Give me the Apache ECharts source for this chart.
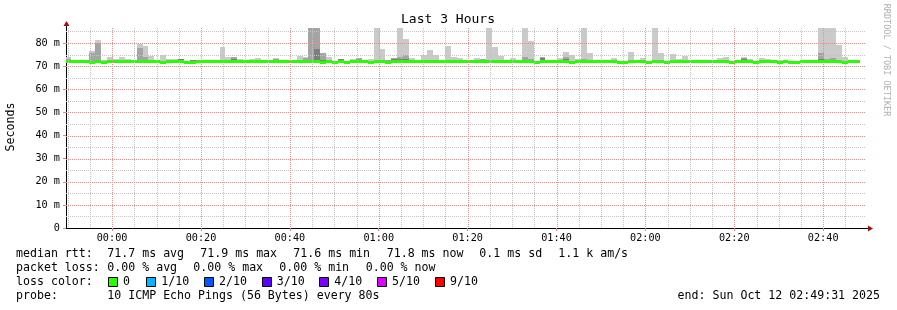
<!DOCTYPE html>
<html><head><meta charset="utf-8">
<script src="https://cdn.jsdelivr.net/npm/echarts@6/dist/echarts.min.js"></script>
<style>html,body{margin:0;padding:0;background:#fff}#c{width:897px;height:310px}</style>
</head><body><div id="c"></div>
<script>
// ---------------- data ----------------
const chartTitle = 'Last 3 Hours';
const yAxisName = 'Seconds';
const watermark = 'RRDTOOL / TOBI OETIKER';
const viewStart = '23:49:38';
const viewEnd = '02:49:38';
const firstStep = '23:49:31';
const stepSeconds = 80;

// smoke: top of outer band (max ping), 2nd band (9th ping), 3rd band (8th ping), in ms
const maxRtt = [
 74.0,72.2,72.2,72.2,76.5,81.3,72.6,74.0,73.1,74.0,
 73.1,72.5,79.7,78.7,74.4,72.2,74.8,73.1,73.1,73.1,
 72.2,72.6,72.2,72.6,72.2,72.6,78.3,73.8,74.0,73.1,
 72.6,73.1,73.5,72.6,72.2,73.5,72.2,72.6,72.2,74.4,
 74.0,87.0,87.0,75.8,74.0,72.2,73.1,72.2,73.1,73.6,
 72.8,73.1,87.0,77.4,72.8,73.4,87.0,81.7,73.5,72.2,
 75.0,77.0,75.0,72.6,78.7,74.1,73.6,72.2,72.2,73.5,
 73.2,87.0,78.3,74.4,72.6,73.5,72.6,87.0,80.9,72.2,
 74.0,72.2,72.6,73.5,76.1,74.8,73.1,87.0,75.7,72.2,
 72.2,72.2,73.5,72.2,72.2,76.1,72.6,73.5,72.2,87.0,
 75.7,72.2,75.2,73.1,74.4,72.4,72.6,72.6,72.2,72.6,
 73.5,74.0,72.2,72.2,73.8,73.1,72.2,73.5,73.1,72.2,
 72.6,72.6,72.2,72.2,72.2,72.6,72.2,87.0,87.0,87.0,
 79.1,74.0,72.6,72.2
];
const p9Rtt = [
 73.0,72.2,72.2,72.2,75.8,80.0,72.2,72.2,72.2,72.2,
 72.2,72.2,77.8,74.0,72.2,72.2,72.2,72.8,72.2,73.0,
 72.2,72.6,72.2,72.2,72.2,72.2,72.2,72.2,74.0,72.2,
 72.2,72.2,72.2,72.2,72.2,73.2,72.2,72.2,72.2,72.2,
 73.6,87.0,87.0,75.7,72.2,72.2,73.1,72.2,72.2,73.6,
 72.2,72.2,72.2,72.2,72.8,73.4,74.1,74.9,72.2,72.2,
 72.2,72.2,72.2,72.2,72.2,72.8,72.2,72.2,72.2,72.2,
 73.0,72.2,72.2,72.2,72.2,72.2,72.2,74.0,73.0,72.2,
 74.0,72.2,72.2,72.2,74.0,72.2,72.2,73.1,72.2,72.2,
 72.2,72.2,72.2,72.2,72.2,72.6,72.2,72.2,72.2,72.2,
 72.2,72.2,72.2,72.2,72.6,72.2,72.6,72.2,72.2,72.2,
 72.2,72.2,72.2,72.2,73.5,72.2,72.2,72.2,72.2,72.2,
 72.2,72.2,72.2,72.2,72.2,72.2,72.2,75.7,73.1,73.5,
 72.2,72.2,72.2,72.2
];
const p8Rtt = [
 72.2,72.2,72.2,72.2,72.2,72.2,72.2,72.2,72.2,72.2,
 72.2,72.2,72.2,72.2,72.2,72.2,72.2,72.2,72.2,72.9,
 72.2,72.6,72.2,72.2,72.2,72.2,72.2,72.2,73.1,72.2,
 72.2,72.2,72.2,72.2,72.2,72.2,72.2,72.2,72.2,72.2,
 72.2,72.2,77.4,72.8,72.2,72.2,73.0,72.2,72.2,72.2,
 72.2,72.2,72.2,72.2,72.2,73.2,73.3,73.1,72.2,72.2,
 72.2,72.2,72.2,72.2,72.2,72.8,72.2,72.2,72.2,72.2,
 72.2,72.2,72.2,72.2,72.2,72.2,72.2,72.2,72.2,72.2,
 73.5,72.2,72.2,72.2,73.2,72.2,72.2,72.2,72.2,72.2,
 72.2,72.2,72.2,72.2,72.2,72.2,72.2,72.2,72.2,72.2,
 72.2,72.2,72.2,72.2,72.2,72.2,72.6,72.2,72.2,72.2,
 72.2,72.2,72.2,72.2,73.3,72.2,72.2,72.2,72.2,72.2,
 72.2,72.2,72.2,72.2,72.2,72.2,72.2,73.1,72.2,72.2,
 72.2,72.2,72.2,72.2
];
const medianRtt = [
 71.85,71.85,71.85,71.85,71.45,71.85,71.45,71.85,71.85,71.85,
 71.85,71.85,71.85,71.85,71.85,71.85,71.45,71.85,71.85,71.85,
 71.45,71.45,71.85,71.85,71.85,71.85,71.85,71.85,71.85,71.85,
 71.85,71.85,71.85,71.85,71.85,71.85,71.85,71.85,71.85,71.85,
 71.85,71.85,71.85,71.45,71.85,71.45,71.85,71.45,71.85,71.85,
 71.85,71.45,71.85,71.85,71.45,71.85,71.85,71.85,71.85,71.85,
 71.85,71.85,71.85,71.85,71.85,71.85,71.85,71.85,71.85,71.85,
 71.85,71.85,71.85,71.85,71.85,71.85,71.85,71.85,71.85,71.45,
 71.85,71.85,71.85,71.85,71.85,71.45,71.85,71.85,71.85,71.85,
 71.85,71.85,71.85,71.45,71.45,71.85,71.85,71.85,71.45,71.85,
 71.85,71.45,71.85,71.85,71.85,71.85,71.85,71.85,71.85,71.85,
 71.85,71.85,71.45,71.85,71.85,71.85,71.45,71.85,71.85,71.85,
 71.45,71.85,71.45,71.45,71.85,71.85,71.85,71.85,71.85,71.85,
 71.85,71.45,71.85,71.85
];

const xTickMinutes = [0,20,40,60,80,100,120,140,160];
const xTickLabels = ['00:00','00:20','00:40','01:00','01:20','01:40','02:00','02:20','02:40'];
const xMinorMinutes = [-10,-5,5,10,15,25,30,35,45,50,55,65,70,75,85,90,95,105,110,115,125,130,135,145,150,155,165];
const yTickValues = [0,10,20,30,40,50,60,70,80];
const yTickLabels = ['0','10 m','20 m','30 m','40 m','50 m','60 m','70 m','80 m'];
const yMinorValues = [5,15,25,35,45,55,65,75,85];
const yMax = 86.5;

const legendMedian = ['median rtt:','71.7 ms avg','71.9 ms max','71.6 ms min','71.8 ms now','0.1 ms sd','1.1 k am/s'];
const legendLoss = ['packet loss:','0.00 % avg','0.00 % max','0.00 % min','0.00 % now'];
const lossColorTitle = 'loss color:';
const lossLabels = ['0','1/10','2/10','3/10','4/10','5/10','9/10'];
const lossColors = ['#26ff00','#00b8ff','#0059ff','#5e00ff','#7e00ff','#dd00ff','#ff0000'];
const probeTitle = 'probe:';
const probeText = '10 ICMP Echo Pings (56 Bytes) every 80s';
const endText = 'end: Sun Oct 12 02:49:31 2025';

// ---------------- helpers ----------------
function toMin(s){ const [h,m,sec]=s.split(':').map(Number); let v=h*60+m+sec/60; if(h>=12) v-=1440; return v; }
const xMin = toMin(viewStart), xMax = toMin(viewEnd);
const t0 = toMin(firstStep), dt = stepSeconds/60;

function bandData(topArr){ return topArr.map((v,i)=>[t0+i*dt, t0+(i+1)*dt, medianRtt[i], v]); }
function rectItem(color){
  return function(params, api){
    const a = api.coord([api.value(0), api.value(3)]);
    const b = api.coord([api.value(1), api.value(2)]);
    const cs = params.coordSys;
    const x0 = Math.round(a[0]), x1 = Math.round(b[0]);
    const y0 = Math.round(a[1]), y1 = Math.round(b[1]);
    const r = echarts.graphic.clipRectByRect(
      {x:x0, y:y0, width:x1-x0, height:y1-y0},
      {x:cs.x, y:cs.y, width:cs.width, height:cs.height});
    return r && {type:'rect', shape:r, style:{fill:color}};
  };
}
const greenHalf = 0.65;
const medianData = medianRtt.map((v,i)=>[t0+i*dt, t0+(i+1)*dt, v-greenHalf, v+greenHalf]);

const MONO = '"DejaVu Sans Mono", monospace';
const minorC = '#c4c4c4', majorC = '#f08c8c';

function vLine(color){
  return function(params, api){
    const p = api.coord([api.value(0), api.value(1)]);
    const cs = params.coordSys;
    const x = Math.round(p[0]) + 0.5;
    if (x <= cs.x + 1) return null;
    return {type:'line', shape:{x1:x, y1:cs.y, x2:x, y2:cs.y+cs.height},
      style:{stroke:color, lineWidth:1, lineDash:[1,1]}};
  };
}
function hLine(color){
  return function(params, api){
    const p = api.coord([api.value(0), api.value(1)]);
    const cs = params.coordSys;
    const y = Math.round(p[1]) + 0.5;
    return {type:'line', shape:{x1:cs.x, y1:y, x2:cs.x+cs.width, y2:y},
      style:{stroke:color, lineWidth:1, lineDash:[1,1]}};
  };
}
const vData = arr => arr.map(m=>[m, 1]);
const hData = arr => arr.map(v=>[0, v]);

const chart = echarts.init(document.getElementById('c'));
const GL=66, GT=28, GW=800, GH=200;

const graphics = [];
const txt = (x,y,s,extra)=>graphics.push(Object.assign({type:'text', x, y, silent:true,
  style:Object.assign({text:s, fill:'#000', font:'11.6px '+MONO, textAlign:'left', textVerticalAlign:'middle'}, extra||{})}));
txt(448,20,chartTitle,{font:'13px '+MONO, textAlign:'center'});
graphics.push({type:'text', x:11, y:127, rotation:Math.PI/2, silent:true,
  style:{text:yAxisName, fill:'#000', font:'11.6px '+MONO, textAlign:'center', textVerticalAlign:'middle'}});
graphics.push({type:'text', x:886, y:60, rotation:-Math.PI/2, silent:true,
  style:{text:watermark, fill:'#b0b0b0', font:'8.5px '+MONO, textAlign:'center', textVerticalAlign:'middle'}});
const row1X=[16,107.3,200.3,293.3,386.7,479.3,558.3];
legendMedian.forEach((s,i)=>txt(row1X[i],254,s));
const row2X=[16,107.3,193.3,279.3,365.7];
legendLoss.forEach((s,i)=>txt(row2X[i],268,s));
txt(16,282,lossColorTitle);
const boxX=[108,146.3,204,261.7,319.3,377,435];
lossLabels.forEach((s,i)=>{
  graphics.push({type:'rect', silent:true, shape:{x:Math.round(boxX[i])+0.5, y:277.5, width:9, height:9},
    style:{fill:lossColors[i], stroke:'#000', lineWidth:1}});
  txt(boxX[i]+15,282,s);
});
txt(16,296,probeTitle);
txt(107.3,296,probeText);
txt(880,296,endText,{textAlign:'right'});

chart.setOption({
  animation:false,
  backgroundColor:'#fff',
  grid:{left:GL, top:GT, width:GW, height:GH},
  xAxis:{type:'value', min:xMin, max:xMax,
    axisLine:{show:true, onZero:false, lineStyle:{color:'#000', width:1}},
    axisTick:{show:true, customValues:xTickMinutes, length:3, lineStyle:{color:'#f08080'}},
    axisLabel:{customValues:xTickMinutes, formatter:v=>xTickLabels[xTickMinutes.indexOf(v)]||'',
      fontFamily:MONO, fontSize:10.2, color:'#000', margin:5},
    splitLine:{show:false}},
  yAxis:{type:'value', min:0, max:yMax,
    axisLine:{show:true, onZero:false, lineStyle:{color:'#000', width:1}},
    axisTick:{show:true, customValues:yTickValues, length:3, lineStyle:{color:'#f08080'}},
    axisLabel:{customValues:yTickValues, formatter:v=>yTickLabels[yTickValues.indexOf(v)]||'',
      fontFamily:MONO, fontSize:10.2, color:'#000', margin:6},
    splitLine:{show:false}},
  series:[
    {type:'custom', z:2, renderItem:rectItem('#cacaca'), data:bandData(maxRtt), encode:{x:[0,1], y:[2,3]}},
    {type:'custom', z:3, renderItem:rectItem('#a4a4a4'), data:bandData(p9Rtt), encode:{x:[0,1], y:[2,3]}},
    {type:'custom', z:4, renderItem:rectItem('#7e7e7e'), data:bandData(p8Rtt), encode:{x:[0,1], y:[2,3]}},
    {type:'custom', z:5, renderItem:rectItem(lossColors[0]), data:medianData, encode:{x:[0,1], y:[2,3]}},
    {type:'custom', z:6, silent:true, renderItem:vLine(minorC), data:vData(xMinorMinutes), encode:{x:0, y:1}},
    {type:'custom', z:6, silent:true, renderItem:hLine(minorC), data:hData(yMinorValues), encode:{x:0, y:1}},
    {type:'custom', z:7, silent:true, renderItem:vLine(majorC), data:vData(xTickMinutes), encode:{x:0, y:1}},
    {type:'custom', z:7, silent:true, renderItem:hLine(majorC), data:hData(yTickValues.slice(1)), encode:{x:0, y:1}}
  ],
  graphic:graphics
});

const pO = chart.convertToPixel({gridIndex:0},[xMax,0]);
const pT = chart.convertToPixel({gridIndex:0},[xMin,yMax]);
chart.setOption({graphic: graphics.concat([
  {type:'line', silent:true, shape:{x1:pO[0], y1:pO[1]+0.5, x2:pO[0]+3, y2:pO[1]+0.5}, style:{stroke:'#000', lineWidth:1}},
  {type:'polygon', silent:true, shape:{points:[[pO[0]+2,pO[1]-2.5],[pO[0]+7,pO[1]+0.5],[pO[0]+2,pO[1]+3.5]]}, style:{fill:'#a01010'}},
  {type:'line', silent:true, shape:{x1:pT[0]+0.5, y1:pT[1], x2:pT[0]+0.5, y2:pT[1]-3}, style:{stroke:'#000', lineWidth:1}},
  {type:'polygon', silent:true, shape:{points:[[pT[0]-2.5,pT[1]-2],[pT[0]+0.5,pT[1]-7],[pT[0]+3.5,pT[1]-2]]}, style:{fill:'#a01010'}}
])});
</script></body></html>
